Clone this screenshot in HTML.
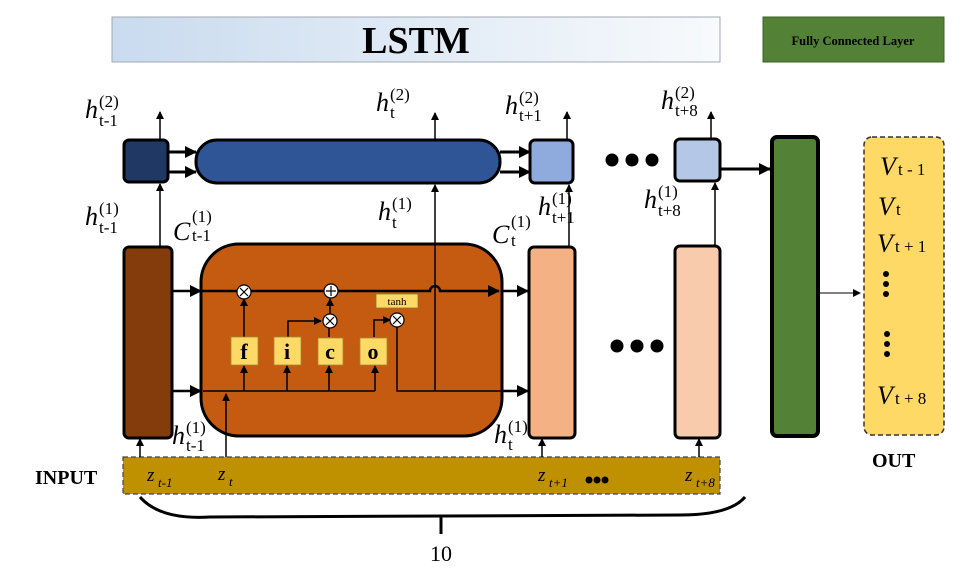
<!DOCTYPE html>
<html><head><meta charset="utf-8"><style>
body{margin:0;background:#fff}
svg text{font-family:"Liberation Serif",serif}
.it{font-style:italic}
</style></head><body>
<svg width="979" height="574" viewBox="0 0 979 574" xmlns="http://www.w3.org/2000/svg">
<defs>
<linearGradient id="g" x1="0" x2="1"><stop offset="0" stop-color="#c9dbef"/><stop offset="1" stop-color="#f8fafc"/></linearGradient>
<marker id="a" markerWidth="8" markerHeight="8" refX="7" refY="4" orient="auto" markerUnits="userSpaceOnUse"><path d="M0,0L8,4L0,8z" fill="#000"/></marker>
<marker id="b" markerWidth="12" markerHeight="12" refX="11" refY="6" orient="auto" markerUnits="userSpaceOnUse"><path d="M0,0L12,6L0,12z" fill="#000"/></marker>
</defs>
<rect x="112" y="17" width="608" height="45" fill="url(#g)" stroke="#a0a8b0"/>
<text x="416" y="53" text-anchor="middle" font-size="38" font-weight="bold">LSTM</text>
<rect x="763" y="17" width="181" height="45" fill="#538135" stroke="#3c5f26"/>
<text x="853" y="45" text-anchor="middle" font-size="12.5" font-weight="bold">Fully Connected Layer</text>

<rect x="124" y="140" width="44" height="42" rx="5" fill="#1f3864" stroke="#000" stroke-width="3"/>
<rect x="196" y="140" width="304" height="43" rx="21" fill="#2f5597" stroke="#000" stroke-width="3"/>
<rect x="530" y="140" width="43" height="43" rx="5" fill="#8faadc" stroke="#000" stroke-width="3"/>
<rect x="675" y="139" width="45" height="42" rx="5" fill="#b4c7e7" stroke="#000" stroke-width="3"/>
<g stroke="#000" stroke-width="3" fill="none">
<line x1="168" y1="152" x2="196" y2="152" marker-end="url(#b)"/>
<line x1="168" y1="172" x2="196" y2="172" marker-end="url(#b)"/>
<line x1="500" y1="152" x2="530" y2="152" marker-end="url(#b)"/>
<line x1="500" y1="172" x2="530" y2="172" marker-end="url(#b)"/>
<line x1="720" y1="169" x2="770" y2="169" marker-end="url(#b)"/>
</g>
<g fill="#000"><circle cx="612" cy="160" r="6.5"/><circle cx="632" cy="160" r="6.5"/><circle cx="652" cy="160" r="6.5"/>
<circle cx="617" cy="346" r="6.5"/><circle cx="637" cy="346" r="6.5"/><circle cx="657" cy="346" r="6.5"/></g>

<rect x="772" y="137" width="46" height="299" rx="5" fill="#538135" stroke="#000" stroke-width="4"/>
<rect x="864" y="137" width="80" height="298" rx="8" fill="#ffd966" stroke="#333" stroke-width="1.5" stroke-dasharray="5,3"/>
<line x1="820" y1="293" x2="860" y2="293" stroke="#000" stroke-width="1" marker-end="url(#a)"/>

<rect x="124" y="247" width="48" height="191" rx="5" fill="#843c0c" stroke="#000" stroke-width="3"/>
<rect x="201" y="244" width="301" height="192" rx="38" fill="#c55a11" stroke="#000" stroke-width="3"/>
<rect x="529" y="247" width="46" height="191" rx="5" fill="#f4b183" stroke="#000" stroke-width="3"/>
<rect x="675" y="246" width="45" height="192" rx="5" fill="#f8cbad" stroke="#000" stroke-width="3"/>

<rect x="123" y="457" width="597" height="37" fill="#bf9000" stroke="#444" stroke-width="1.2" stroke-dasharray="5,3"/>

<g stroke="#000" stroke-width="1.5" fill="none">
<line x1="160" y1="247" x2="160" y2="184" marker-end="url(#a)"/>
<line x1="160" y1="140" x2="160" y2="112" marker-end="url(#a)"/>
<line x1="569" y1="247" x2="569" y2="185" marker-end="url(#a)"/>
<line x1="567" y1="140" x2="567" y2="112" marker-end="url(#a)"/>
<line x1="715" y1="246" x2="715" y2="183" marker-end="url(#a)"/>
<line x1="711" y1="139" x2="711" y2="112" marker-end="url(#a)"/>
<line x1="435" y1="140" x2="435" y2="113" marker-end="url(#a)"/>
<line x1="140" y1="457" x2="140" y2="439" marker-end="url(#a)"/>
<line x1="542" y1="457" x2="542" y2="439" marker-end="url(#a)"/>
<line x1="699" y1="457" x2="699" y2="439" marker-end="url(#a)"/>
<line x1="226" y1="457" x2="226" y2="394" marker-end="url(#a)"/>
<line x1="435" y1="391" x2="435" y2="185" marker-end="url(#a)"/>
<line x1="203" y1="391" x2="375" y2="391"/>
<line x1="244" y1="391" x2="244" y2="366" marker-end="url(#a)"/>
<line x1="287" y1="391" x2="287" y2="366" marker-end="url(#a)"/>
<line x1="329" y1="391" x2="329" y2="366" marker-end="url(#a)"/>
<line x1="375" y1="391" x2="375" y2="366" marker-end="url(#a)"/>
<line x1="244" y1="337" x2="244" y2="299" marker-end="url(#a)"/>
<path d="M288 337 V321 H321" marker-end="url(#a)"/>
<line x1="329" y1="337" x2="329" y2="328"/>
<line x1="330" y1="314" x2="330" y2="299" marker-end="url(#a)"/>
<path d="M374 337 V320 H390" marker-end="url(#a)"/>
<path d="M397 327 V391 H528" marker-end="url(#a)"/>
</g>
<g stroke="#000" stroke-width="2.5" fill="none">
<line x1="172" y1="291" x2="201" y2="291" marker-end="url(#b)"/>
<line x1="172" y1="391" x2="201" y2="391" marker-end="url(#b)"/>
<path d="M201 291 H430 a5 5 0 0 1 10 0 H499" marker-end="url(#b)"/>
<line x1="502" y1="291" x2="528" y2="291" marker-end="url(#b)"/>
</g>
<line x1="502" y1="391" x2="528" y2="391" stroke="#000" stroke-width="2.5" marker-end="url(#b)"/>

<g stroke="#000" stroke-width="1.2">
<circle cx="244" cy="292" r="7" fill="#fff"/><path d="M240 288l8 8M248 288l-8 8"/>
<circle cx="331" cy="291" r="7" fill="#fff"/><path d="M326 291h10M331 286v10"/>
<circle cx="330" cy="321" r="7" fill="#fff"/><path d="M326 317l8 8M334 317l-8 8"/>
<circle cx="397" cy="320" r="7" fill="#fff"/><path d="M393 316l8 8M401 316l-8 8"/>
</g>
<rect x="376" y="294" width="42" height="14" fill="#ffd966" stroke="#8a7a30" stroke-width="0.8"/>
<text x="397" y="305" text-anchor="middle" font-size="11">tanh</text>
<g fill="#ffd966" stroke="#a08a30" stroke-width="0.8">
<rect x="231" y="337" width="27" height="28"/><rect x="274" y="337" width="27" height="28"/>
<rect x="318" y="338" width="25" height="27"/><rect x="360" y="338" width="27" height="27"/>
</g>
<g font-weight="bold" font-size="22" text-anchor="middle">
<text x="244" y="359">f</text><text x="287" y="359">i</text><text x="330" y="359">c</text><text x="373" y="359">o</text>
</g>

<g font-size="26">
<text x="85" y="118" class="it">h</text><text x="99" y="107" font-size="17">(2)</text><text x="99" y="126" font-size="17">t-1</text>
<text x="85" y="225" class="it">h</text><text x="99" y="214" font-size="17">(1)</text><text x="99" y="233" font-size="17">t-1</text>
<text x="173" y="240" class="it">C</text><text x="192" y="222" font-size="17">(1)</text><text x="192" y="241" font-size="17">t-1</text>
<text x="376" y="111" class="it">h</text><text x="390" y="100" font-size="17">(2)</text><text x="390" y="118" font-size="17">t</text>
<text x="378" y="220" class="it">h</text><text x="392" y="209" font-size="17">(1)</text><text x="392" y="228" font-size="17">t</text>
<text x="505" y="114" class="it">h</text><text x="519" y="103" font-size="17">(2)</text><text x="519" y="121" font-size="17">t+1</text>
<text x="538" y="215" class="it">h</text><text x="552" y="204" font-size="17">(1)</text><text x="552" y="223" font-size="17">t+1</text>
<text x="492" y="243" class="it">C</text><text x="511" y="227" font-size="17">(1)</text><text x="511" y="246" font-size="17">t</text>
<text x="661" y="109" class="it">h</text><text x="675" y="98" font-size="17">(2)</text><text x="675" y="116" font-size="17">t+8</text>
<text x="644" y="208" class="it">h</text><text x="658" y="197" font-size="17">(1)</text><text x="658" y="216" font-size="17">t+8</text>
<text x="172" y="444" class="it">h</text><text x="186" y="433" font-size="17">(1)</text><text x="186" y="451" font-size="17">t-1</text>
<text x="494" y="443" class="it">h</text><text x="508" y="432" font-size="17">(1)</text><text x="508" y="450" font-size="17">t</text>
</g>
<g font-size="26">
<text x="880" y="175" class="it">V</text><text x="898" y="175" font-size="17">t - 1</text>
<text x="878" y="215" class="it">V</text><text x="896" y="215" font-size="17">t</text>
<text x="877" y="252" class="it">V</text><text x="895" y="252" font-size="17">t + 1</text>
<text x="877" y="404" class="it">V</text><text x="895" y="404" font-size="17">t + 8</text>
</g>
<g fill="#000"><circle cx="886" cy="274" r="3"/><circle cx="886" cy="284" r="3"/><circle cx="886" cy="294" r="3"/>
<circle cx="887" cy="334" r="3"/><circle cx="887" cy="344" r="3"/><circle cx="887" cy="354" r="3"/></g>
<text x="872" y="467" font-size="20" font-weight="bold">OUT</text>
<text x="35" y="484" font-size="20" font-weight="bold">INPUT</text>
<g font-size="19">
<text x="147" y="481" class="it">z</text><text x="158" y="487" font-size="13" class="it">t-1</text>
<text x="218" y="480" class="it">z</text><text x="229" y="486" font-size="13" class="it">t</text>
<text x="538" y="481" class="it">z</text><text x="549" y="487" font-size="13" class="it">t+1</text>
<text x="685" y="481" class="it">z</text><text x="696" y="487" font-size="13" class="it">t+8</text>
</g>
<g fill="#000"><circle cx="589" cy="480" r="3.5"/><circle cx="597" cy="480" r="3.5"/><circle cx="605" cy="480" r="3.5"/></g>
<path d="M140 497 Q160 520 210 517 L680 515 Q730 515 745 497" stroke="#000" stroke-width="3" fill="none"/>
<line x1="441" y1="516" x2="441" y2="534" stroke="#000" stroke-width="3"/>
<text x="441" y="561" text-anchor="middle" font-size="22">10</text>
</svg>
</body></html>
